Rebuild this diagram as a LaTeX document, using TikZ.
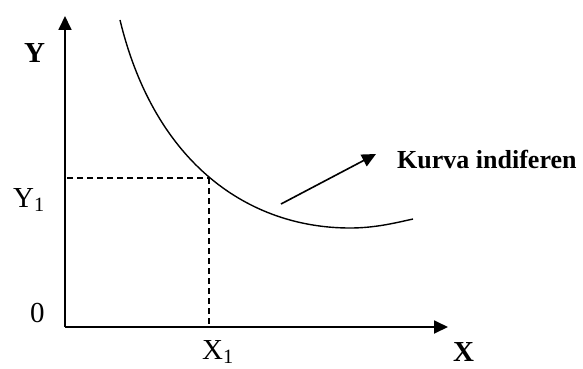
\documentclass[tikz,border=0pt]{standalone}
\usepackage{fontspec}
\setmainfont{Liberation Serif}
\usetikzlibrary{arrows.meta, positioning}

\begin{document}
\begin{tikzpicture}[
    x=1pt, y=-1pt,
    axis/.style={line width=1.8pt, -{Triangle[length=14pt, width=13pt]}},
    curve/.style={line width=1.4pt},
    guide/.style={dashed, line width=1.1pt, dash pattern=on 6pt off 4pt},
    pointer/.style={line width=1.6pt, -{Triangle[length=14pt, width=13pt]}},
    lbl/.style={inner sep=0pt, anchor=base west, font=\fontsize{29}{29}\selectfont},
    blbl/.style={lbl, font=\fontsize{29}{29}\selectfont\bfseries}
]
    \useasboundingbox (0,0) rectangle (583,369);

    % Axes
    \coordinate (origin) at (65,327);
    \coordinate (ytip) at (65,16);
    \coordinate (xtip) at (448,327);
    \draw[axis] (origin) -- (ytip);
    \draw[axis] (origin) -- (xtip);

    % Indifference curve
    \coordinate (cstart) at (120,20);
    \coordinate (cmin) at (350,228);
    \coordinate (cend) at (413,219);
    \draw[curve] (cstart) .. controls (155,165) and (250,228) .. (cmin)
        .. controls (375,228) and (395,223) .. (cend);

    % Point on the curve
    \coordinate (pt) at (209,178);
    \coordinate (ypt) at (67,178);
    \coordinate (xpt) at (209,325);
    \draw[guide] (ypt) -- (pt);
    \draw[guide] (pt) -- (xpt);

    % Labels
    \node[blbl] (ylabel) at (24,63) {Y};
    \node[blbl] (xlabel) at (453,361) {X};
    \node[lbl] (y1) at (13,207) {Y\textsubscript{1}};
    \node[lbl] (x1) at (202,359) {X\textsubscript{1}};
    \node[lbl] (zero) at (30,322) {0};

    % Pointer to curve name
    \coordinate (pstart) at (281,204);
    \node[inner sep=0pt, anchor=base west, font=\fontsize{26}{26}\selectfont\bfseries] (name) at (397,168) {Kurva indiferen};
    \coordinate (ptip) at (376,154);
    \draw[pointer] (pstart) -- (ptip);

\end{tikzpicture}
\end{document}
